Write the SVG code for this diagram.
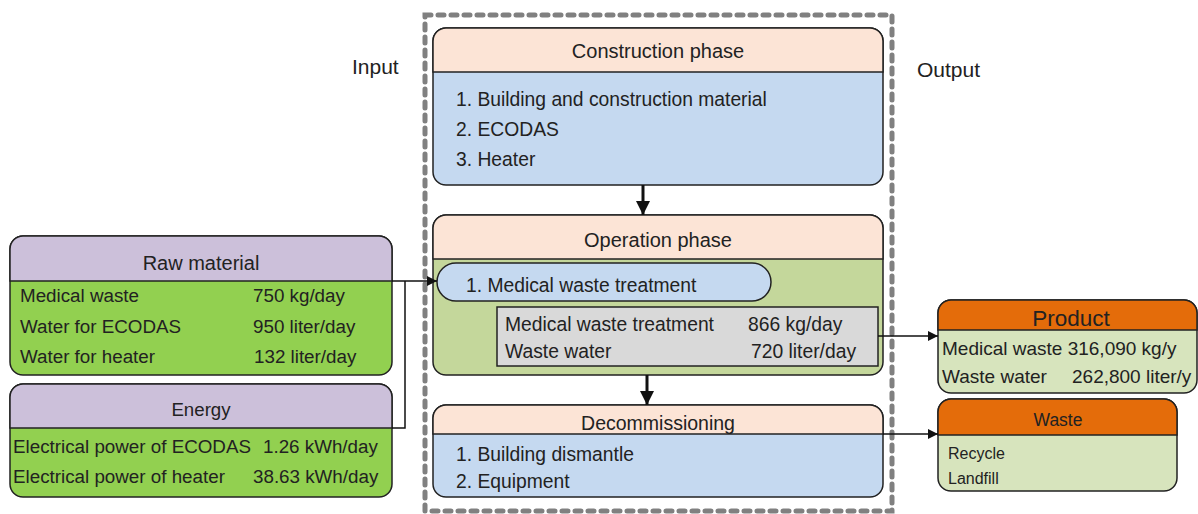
<svg xmlns="http://www.w3.org/2000/svg" width="1198" height="514" viewBox="0 0 1198 514">
<style>
text{font-family:"Liberation Sans",Arial,sans-serif;font-size:19.3px;fill:#222}
.c{text-anchor:middle}
.h{font-size:20px}
.l{font-size:18.8px}
.bx{stroke:#222;stroke-width:1.5}
.ln{stroke:#111;stroke-width:1.5;fill:none}
.thick{stroke:#111;stroke-width:3;fill:none}
.pe{fill:#fce4d6}.bl{fill:#c5d9f0}.gn{fill:#c4d79b}.pu{fill:#ccc0da}.lg{fill:#92d050}.or{fill:#e46c0a}.pg{fill:#d7e4bd}
</style>
<defs>
<marker id="ah" viewBox="0 0 10 10" refX="10" refY="5" markerWidth="10" markerHeight="10" markerUnits="userSpaceOnUse" orient="auto"><path d="M0,0L10,5L0,10z" fill="#111"/></marker>
<marker id="ahb" viewBox="0 0 10 10" refX="10" refY="5" markerWidth="14" markerHeight="14" markerUnits="userSpaceOnUse" orient="auto"><path d="M0,0L10,5L0,10z" fill="#111"/></marker>
</defs>
<rect width="1198" height="514" fill="#fff"/>
<rect x="425" y="15" width="467" height="496" fill="none" stroke="#808080" stroke-width="5" stroke-dasharray="6 7" stroke-linecap="round"/>
<text x="352" y="74" style="font-size:21px">Input</text>
<text x="917" y="77" style="font-size:21px">Output</text>

<g id="construction">
<rect x="433" y="28" width="450" height="157" rx="13" class="bl bx"/>
<path d="M433,72V41a13,13 0 0 1 13,-13H870a13,13 0 0 1 13,13V72z" class="pe bx"/>
<text x="658" y="58" class="c h">Construction phase</text>
<text x="456" y="106">1. Building and construction material</text>
<text x="456" y="136">2. ECODAS</text>
<text x="456" y="166">3. Heater</text>
</g>

<g id="operation">
<rect x="433" y="215" width="450" height="160" rx="13" class="gn bx"/>
<path d="M433,259V228a13,13 0 0 1 13,-13H870a13,13 0 0 1 13,13V259z" class="pe bx"/>
<text x="658" y="247" class="c h">Operation phase</text>
<rect x="437" y="263" width="334" height="38" rx="19" class="bl bx"/>
<text x="466" y="292">1. Medical waste treatment</text>
<rect x="497" y="307" width="381" height="59" fill="#d9d9d9" class="bx"/>
<text x="505" y="331">Medical waste treatment</text>
<text x="748" y="331">866 kg/day</text>
<text x="505" y="358">Waste water</text>
<text x="751" y="358">720 liter/day</text>
</g>

<g id="decommissioning">
<rect x="433" y="405" width="450" height="92" rx="13" class="bl bx"/>
<path d="M433,434V418a13,13 0 0 1 13,-13H870a13,13 0 0 1 13,13V434z" class="pe bx"/>
<text x="658" y="430" class="c" style="font-size:19.5px">Decommissioning</text>
<text x="456" y="461">1. Building dismantle</text>
<text x="456" y="488">2. Equipment</text>
</g>

<g id="raw-material">
<rect x="10" y="236" width="382" height="139" rx="13" class="lg bx"/>
<path d="M10,281V249a13,13 0 0 1 13,-13H379a13,13 0 0 1 13,13V281z" class="pu bx"/>
<text x="201" y="270" class="c h">Raw material</text>
<text x="20" y="302" class="l">Medical waste</text>
<text x="253" y="302" class="l">750 kg/day</text>
<text x="20" y="333" class="l">Water for ECODAS</text>
<text x="253" y="333" class="l">950 liter/day</text>
<text x="20" y="363" class="l">Water for heater</text>
<text x="254" y="363" class="l">132 liter/day</text>
</g>

<g id="energy">
<rect x="10" y="384" width="382" height="113" rx="13" class="lg bx"/>
<path d="M10,428V397a13,13 0 0 1 13,-13H379a13,13 0 0 1 13,13V428z" class="pu bx"/>
<text x="201" y="416" class="c" style="font-size:18.7px">Energy</text>
<text x="13" y="453" class="l">Electrical power of ECODAS</text>
<text x="263" y="453" class="l">1.26 kWh/day</text>
<text x="13" y="483" class="l">Electrical power of heater</text>
<text x="253" y="483" class="l">38.63 kWh/day</text>
</g>

<g id="product">
<rect x="938" y="300" width="259" height="93" rx="13" class="pg bx"/>
<path d="M938,330V313a13,13 0 0 1 13,-13H1184a13,13 0 0 1 13,13V330z" class="or bx"/>
<text x="1071" y="326" class="c" style="font-size:22.5px">Product</text>
<text x="942" y="355" style="font-size:19px">Medical waste 316,090 kg/y</text>
<text x="942" y="383" style="font-size:19px">Waste water</text>
<text x="1072" y="383" style="font-size:19px">262,800 liter/y</text>
</g>

<g id="waste">
<rect x="938" y="399" width="239" height="92" rx="13" class="pg bx"/>
<path d="M938,435V412a13,13 0 0 1 13,-13H1164a13,13 0 0 1 13,13V435z" class="or bx"/>
<text x="1058" y="426" class="c" style="font-size:17.5px">Waste</text>
<text x="948" y="459" style="font-size:16px">Recycle</text>
<text x="948" y="484" style="font-size:16px">Landfill</text>
</g>

<g id="connectors">
<path d="M392,281H437" class="ln" marker-end="url(#ah)"/>
<path d="M405,281V428H392" class="ln"/>
<path d="M643,185V215" class="thick" marker-end="url(#ahb)"/>
<path d="M647,375V405" class="thick" marker-end="url(#ahb)"/>
<path d="M878,336H938" class="ln" marker-end="url(#ah)"/>
<path d="M883,434H938" class="ln" marker-end="url(#ah)"/>
</g>
</svg>
